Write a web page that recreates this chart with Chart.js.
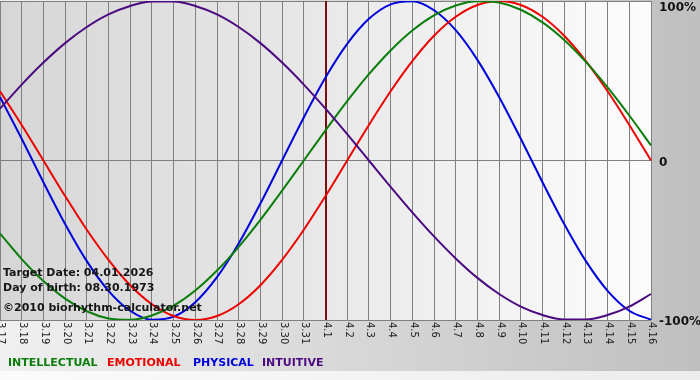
<!DOCTYPE html>
<html>
<head>
<meta charset="utf-8">
<script src="https://cdn.jsdelivr.net/npm/chart.js@4/dist/chart.umd.min.js"></script>
<style>
html,body{margin:0;padding:0;background:#fff;}
#wrap{position:relative;width:700px;height:380px;}
</style>
</head>
<body>
<div id="wrap"><canvas id="c" width="700" height="380"></canvas></div>
<script>
const days = ["3.17","3.18","3.19","3.20","3.21","3.22","3.23","3.24","3.25","3.26","3.27","3.28","3.29","3.30","3.31","4.1","4.2","4.3","4.4","4.5","4.6","4.7","4.8","4.9","4.10","4.11","4.12","4.13","4.14","4.15","4.16"];
const intellectual = [-45.8,-61.8,-75.6,-86.6,-94.5,-99.0,-99.9,-97.2,-91.0,-81.5,-69.0,-54.1,-37.2,-18.9,0,18.9,37.2,54.1,69.0,81.5,91.0,97.2,99.9,99.0,94.5,86.6,75.6,61.8,45.8,28.2,9.5];
const emotional = [43.4,22.3,0,-22.3,-43.4,-62.3,-78.2,-90.1,-97.5,-100,-97.5,-90.1,-78.2,-62.3,-43.4,-22.3,0,22.3,43.4,62.3,78.2,90.1,97.5,100,97.5,90.1,78.2,62.3,43.4,22.3,0];
const physical = [39.8,13.6,-13.6,-39.8,-63.1,-81.7,-94.2,-99.8,-97.9,-88.8,-73.1,-52.0,-27.0,0,27.0,52.0,73.1,88.8,97.9,99.8,94.2,81.7,63.1,39.8,13.6,-13.6,-39.8,-63.1,-81.7,-94.2,-99.8];
const intuitive = [32.5,47.6,61.4,73.6,83.7,91.6,96.9,99.7,99.7,96.9,91.6,83.7,73.6,61.4,47.6,32.5,16.5,0,-16.5,-32.5,-47.6,-61.4,-73.6,-83.7,-91.6,-96.9,-99.7,-99.7,-96.9,-91.6,-83.7];
const yTicks = [100, 0, -100];
const yTickText = {"100":"100%","0":"0","-100":"-100%"};
const targetDay = "4.1";
const infoLines = ["Target Date: 04.01.2026","Day of birth: 08.30.1973","\u00a92010 biorhythm-calculator.net"];
const legendItems = [
  {text:"INTELLECTUAL", color:"#0a7d0a", x:8},
  {text:"EMOTIONAL", color:"#ee0000", x:107},
  {text:"PHYSICAL", color:"#0000dd", x:193},
  {text:"INTUITIVE", color:"#4b0a80", x:262}
];

const bgPlugin = {
  id:'bg',
  beforeDraw(chart){
    const ctx = chart.ctx, W = chart.width, H = chart.height, a = chart.chartArea;
    ctx.save();
    let g = ctx.createLinearGradient(0,0,W,0);
    g.addColorStop(0,'#f0f0f0'); g.addColorStop(1,'#bfbfbf');
    ctx.fillStyle = g; ctx.fillRect(0,0,W,H);
    g = ctx.createLinearGradient(0,0,W,0);
    g.addColorStop(0,'#fbfbfb'); g.addColorStop(1,'#ececec');
    ctx.fillStyle = g; ctx.fillRect(0,371,W,H-371);
    g = ctx.createLinearGradient(a.left,0,a.right,0);
    g.addColorStop(0,'#d6d6d6'); g.addColorStop(1,'#fcfcfc');
    ctx.fillStyle = g; ctx.fillRect(a.left,a.top,a.right-a.left,a.bottom-a.top);
    ctx.restore();
  },
  beforeDatasetsDraw(chart){
    const ctx = chart.ctx, a = chart.chartArea, xs = chart.scales.x;
    const x = Math.round(xs.getPixelForValue(days.indexOf(targetDay)));
    ctx.save();
    ctx.strokeStyle = '#7a1010'; ctx.lineWidth = 2;
    ctx.beginPath(); ctx.moveTo(x, a.top); ctx.lineTo(x, a.bottom); ctx.stroke();
    ctx.restore();
  },
  afterDraw(chart){
    const ctx = chart.ctx, a = chart.chartArea, xs = chart.scales.x, ys = chart.scales.y;
    ctx.save();
    ctx.font = '10px "DejaVu Sans", Verdana, sans-serif';
    ctx.fillStyle = '#222';
    ctx.textAlign = 'left'; ctx.textBaseline = 'middle';
    days.forEach((d,i)=>{
      const x = xs.getPixelForValue(i);
      ctx.save();
      ctx.translate(x+1, a.bottom+2);
      ctx.rotate(Math.PI/2);
      ctx.fillText(d, 0, 0);
      ctx.restore();
    });
    ctx.font = 'bold 12px "DejaVu Sans", Verdana, sans-serif';
    ctx.fillStyle = '#111';
    ctx.textBaseline = 'middle';
    yTicks.forEach(v=>{
      let y = ys.getPixelForValue(v) + 2;
      if (y < 8) y = 8;
      ctx.fillText(yTickText[String(v)], a.right + 8, y);
    });
    ctx.font = 'bold 11px "DejaVu Sans", Verdana, sans-serif';
    ctx.fillStyle = '#151515';
    ctx.textBaseline = 'alphabetic';
    ctx.fillText(infoLines[0], 3, 276);
    ctx.fillText(infoLines[1], 3, 291);
    ctx.fillText(infoLines[2], 3, 311);
    ctx.font = 'bold 11px "DejaVu Sans", Verdana, sans-serif';
    legendItems.forEach(it=>{
      ctx.fillStyle = it.color;
      ctx.fillText(it.text, it.x, 366);
    });
    ctx.restore();
  }
};

const mk = (label, data, color) => ({label, data, borderColor: color, backgroundColor: color, borderWidth: 2, pointRadius: 0, tension: 0.4, cubicInterpolationMode: 'monotone', fill: false});

new Chart(document.getElementById('c'), {
  type: 'line',
  data: {
    labels: days,
    datasets: [
      mk('INTUITIVE', intuitive, '#4b0a80'),
      mk('INTELLECTUAL', intellectual, '#0a7d0a'),
      mk('EMOTIONAL', emotional, '#ee0000'),
      mk('PHYSICAL', physical, '#0000dd')
    ]
  },
  options: {
    responsive: false,
    animation: false,
    layout: {padding: {left: 0, right: 49, top: 1, bottom: 60}},
    plugins: {legend: {display: false}, tooltip: {enabled: false}},
    scales: {
      x: {
        offset: false,
        grid: {color: '#808080', lineWidth: 1, drawTicks: false, offset: false},
        border: {display: false},
        ticks: {display: false}
      },
      y: {
        position: 'right',
        min: -100, max: 100,
        afterBuildTicks(s){ s.ticks = yTicks.map(v=>({value:v})); },
        grid: {color: '#808080', lineWidth: 1, drawTicks: false},
        border: {display: false},
        ticks: {display: false}
      }
    }
  },
  plugins: [bgPlugin]
});
</script>
</body>
</html>
